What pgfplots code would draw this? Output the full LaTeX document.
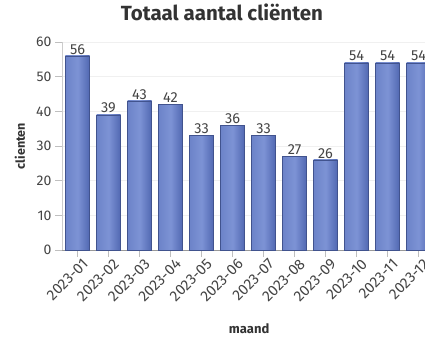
\documentclass[border=0pt]{standalone}
\usepackage{pgfplots}
\pgfplotsset{compat=1.18}
\usepackage{fontspec}
\setmainfont{Fira Sans}
\definecolor{barL}{HTML}{6C83C9}
\definecolor{barM}{HTML}{7D93D5}
\definecolor{barR}{HTML}{5168B2}
\definecolor{txt}{HTML}{444444}
\definecolor{ttl}{HTML}{333333}
\pgfplotsset{mybar/.style={ybar, bar width=24pt, bar shift=0pt, draw=barR!80!black, line width=0.3pt, left color=barL, right color=barR, middle color=barM}}
\begin{document}
\begin{tikzpicture}[x=1pt,y=1pt]
\begin{axis}[
  at={(62pt,95pt)}, anchor=south west,
  width=372pt, height=208pt, scale only axis,
  xmin=-0.5, xmax=11.5, ymin=0, ymax=60,
  axis x line*=bottom, axis y line*=left,
  x axis line style={draw=gray!80},
  y axis line style={draw=gray!40},
  ytick={0,10,20,30,40,50,60},
  ymajorgrids, grid style={draw=gray!12},
  xtick={0,...,11},
  xticklabels={2023-01,2023-02,2023-03,2023-04,2023-05,2023-06,2023-07,2023-08,2023-09,2023-10,2023-11,2023-12},
  xticklabel style={rotate=45, anchor=north east, font=\fontsize{15}{16}\selectfont, text=txt, inner sep=0.5pt, xshift=3pt, yshift=-3pt},
  yticklabel style={font=\fontsize{14}{15}\selectfont, text=txt},
  /pgf/number format/assume math mode=true,
  tick align=outside, major tick length=7pt,
  tick style={draw=gray!50, thin},
  xlabel={\textbf{maand}}, xlabel style={font=\fontsize{13}{14}\selectfont, text=ttl, at={(axis description cs:0.503,-0.38)}, anchor=center},
  ylabel={\textbf{clienten}}, ylabel style={font=\fontsize{12.5}{14}\selectfont, text=ttl, at={(axis description cs:-0.113,0.5)}, anchor=center},
  nodes near coords, nodes near coords style={font=\fontsize{14.5}{15}\selectfont, text=txt, inner sep=1.5pt},
  title={\textbf{Totaal aantal cliënten}}, title style={font=\fontsize{20.5}{22}\selectfont, text=ttl, at={(axis description cs:0.43,1.115)}, anchor=center},
]
\addplot[mybar] coordinates {(0,56)};
\addplot[mybar] coordinates {(1,39)};
\addplot[mybar] coordinates {(2,43)};
\addplot[mybar] coordinates {(3,42)};
\addplot[mybar] coordinates {(4,33)};
\addplot[mybar] coordinates {(5,36)};
\addplot[mybar] coordinates {(6,33)};
\addplot[mybar] coordinates {(7,27)};
\addplot[mybar] coordinates {(8,26)};
\addplot[mybar] coordinates {(9,54)};
\addplot[mybar] coordinates {(10,54)};
\addplot[mybar] coordinates {(11,54)};
\end{axis}
\pgfresetboundingbox
\useasboundingbox (0,0) rectangle (425pt,345pt);
\end{tikzpicture}
\end{document}
